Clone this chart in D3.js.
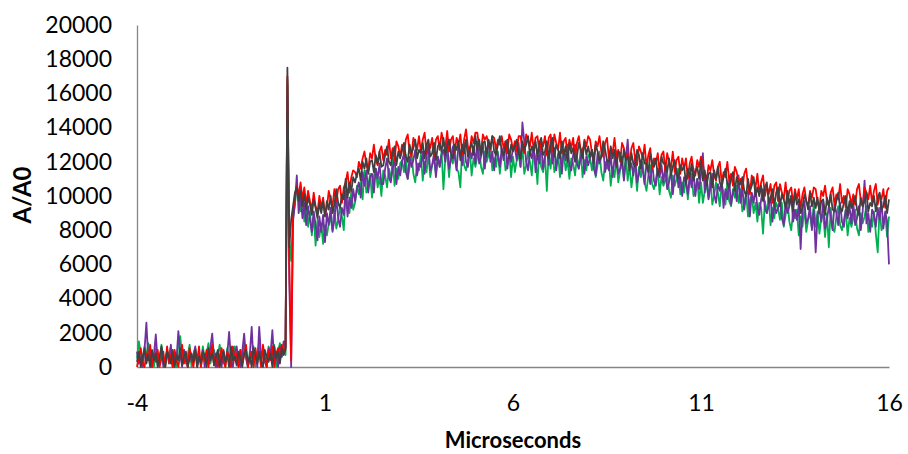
<!DOCTYPE html>
<html>
<head>
<meta charset="utf-8">
<script src="https://cdn.jsdelivr.net/npm/d3@7"></script>
<style>
    body { margin: 0; background: #fff; }
    #chart-area { width: 908px; height: 454px; }
    .axis text { font-family: Lato, "Open Sans", sans-serif; font-size: 23px; fill: #000; }
    .axis path { stroke: #868686; stroke-width: 1.3px; }
    .axis-title { font-family: Lato, "Open Sans", sans-serif; font-weight: bold; fill: #000; }
</style>
</head>
<body>
<div id="chart-area"></div>
<script>

// sampling of the traces (microseconds)
let tStart = -4;
let tStep = 0.05;

let xTicks = [-4, 1, 6, 11, 16];
let yTicks = [0, 2000, 4000, 6000, 8000, 10000, 12000, 14000, 16000, 18000, 20000];

let seriesNames = ["green", "purple", "red", "gray"];
let seriesColors = ["#00B050", "#7030A0", "#FF0000", "#404040"];

let greenValues = [
    500, 1500, 800, 0, 1200, 600, 1400, 300, 900, 0, 1100, 700, 200, 1300, 500, 0, 1000, 600, 1200, 300,
    800, 0, 1400, 1800, 500, 1000, 200, 700, 1300, 0, 600, 1100, 400, 900, 0, 1200, 500, 800, 1400, 200,
    600, 1000, 0, 700, 1300, 400, 900, 0, 1100, 500, 800, 200, 1200, 600, 0, 1000, 400, 1300, 700, 0,
    900, 500, 1200, 0, 800, 1400, 300, 1000, 600, 0, 1200, 800, 400, 1300, 0, 900, 1400, 600, 1100, 700,
    16800,
    7500, 6200, 8700, 9500, 10600, 9900, 9100, 9800, 8500, 9400, 8200, 9100, 7700, 8900, 7100, 8600, 7600, 8400, 7200, 8300,
    7700, 8400, 8700, 8000, 9200, 8100, 8600, 9400, 8800, 8000, 10200, 9700, 9000, 10300, 9200, 9600, 10600, 10100, 10800, 9800,
    11500, 10200, 10600, 11300, 9900, 11200, 11600, 10500, 11100, 10000, 11500, 11200, 10500, 11600, 10900, 12200, 10600, 11600, 11000, 11900,
    12100, 11400, 12400, 11000, 11700, 12500, 11300, 10800, 11900, 11500, 12400, 10900, 12000, 11400, 12500, 11100, 11800, 12200, 11300, 12300,
    11700, 12600, 10400, 12200, 12400, 11100, 12500, 11900, 12800, 11600, 11400, 10500, 12900, 11800, 11500, 12100, 12700, 11200, 12200, 11700,
    12300, 12800, 11700, 11300, 12600, 12000, 12400, 13000, 11500, 12200, 11700, 12600, 11300, 12400, 12800, 11500, 11800, 12500, 11100, 12300,
    11400, 12100, 12400, 11700, 12900, 11300, 11800, 12600, 12000, 11200, 12700, 12200, 10700, 12800, 11700, 11400, 12400, 10300, 12600, 11600,
    12700, 11400, 11800, 12500, 11100, 12200, 12600, 11500, 12100, 11000, 12200, 11900, 11200, 12300, 11600, 12700, 11100, 12100, 11500, 12400,
    12200, 11500, 12500, 11100, 11800, 12600, 11400, 10900, 12000, 11600, 12100, 10600, 11700, 11100, 12200, 10800, 11500, 11900, 11000, 12500,
    10900, 11800, 10500, 11400, 11600, 10300, 11700, 11100, 12000, 10800, 10300, 11200, 11800, 10700, 10400, 11000, 11600, 10100, 11100, 10600,
    10900, 11400, 10300, 9900, 11200, 10600, 11000, 11600, 10100, 10800, 10200, 11100, 9800, 10900, 11300, 10000, 10300, 11000, 9600, 10800,
    9600, 10300, 10600, 9900, 11100, 9500, 10000, 10800, 10200, 9400, 10700, 10200, 9500, 10800, 9700, 9400, 10400, 9900, 10600, 9600,
    10400, 9100, 9500, 10200, 8800, 9700, 10100, 9000, 9600, 8500, 9600, 9300, 7800, 9700, 9000, 9900, 8300, 9300, 8700, 9600,
    9300, 8600, 9600, 8200, 8900, 9700, 8500, 8000, 9100, 8700, 9200, 7700, 8800, 8200, 9300, 7900, 8600, 9000, 8100, 9600,
    8200, 9100, 7800, 8700, 8900, 7600, 9000, 7000, 9300, 8100, 7900, 8800, 9400, 8300, 8000, 8600, 9200, 7700, 8700, 8200,
    8700, 9200, 8100, 7700, 9000, 8400, 8800, 9400, 7900, 8600, 8200, 9100, 7800, 6700, 9300, 8000, 8300, 9000, 7600, 8800
];

let purpleValues = [
    900, 200, 600, 0, 1000, 2600, 400, 800, 0, 700, 1900, 300, 600, 1100, 0, 500, 900, 200, 1300, 0,
    700, 400, 2100, 800, 0, 1000, 500, 0, 900, 300, 700, 1200, 0, 600, 400, 1000, 0, 800, 300, 1100,
    1950, 500, 0, 900, 600, 0, 1000, 300, 700, 2050, 400, 0, 800, 1200, 300, 0, 900, 1950, 500, 0,
    700, 2350, 200, 900, 0, 2350, 600, 1000, 300, 0, 1100, 700, 2150, 400, 900, 0, 1200, 600, 1500, 1100,
    16500,
    5000, 0, 8500, 9600, 11200, 9000, 10100, 8700, 9600, 8300, 9400, 8600, 7900, 9100, 8300, 7400, 8800, 7900, 8900, 7300,
    9000, 8300, 9300, 7900, 8600, 9900, 8700, 8200, 9300, 8900, 10300, 8800, 9900, 9300, 10400, 9700, 10400, 10800, 9900, 11400,
    10600, 11500, 10200, 11100, 11300, 10200, 11600, 11000, 11900, 10700, 10700, 11600, 12200, 11100, 10800, 11600, 12200, 10700, 11700, 11200,
    12000, 12500, 11400, 11000, 12300, 11700, 12100, 12700, 11200, 11900, 11700, 12600, 11300, 12400, 12800, 11500, 11800, 12500, 11100, 12300,
    11700, 12400, 12700, 12000, 13200, 11600, 12100, 12900, 12300, 11500, 13000, 12500, 11800, 13100, 12000, 11700, 12700, 12200, 12900, 11900,
    13200, 11900, 12300, 13000, 11600, 12700, 13100, 12000, 12600, 11500, 12700, 12400, 11700, 12800, 12100, 13200, 11600, 12600, 12000, 12900,
    12800, 12100, 13100, 11700, 14300, 13200, 12000, 11500, 12600, 12200, 12900, 11400, 12500, 11900, 13000, 11600, 12300, 12700, 11800, 13300,
    11900, 12800, 11500, 12400, 12600, 11300, 12700, 12100, 13000, 11800, 11500, 12400, 13000, 11900, 11600, 12200, 12800, 11300, 12300, 11800,
    12200, 12700, 11600, 11200, 12500, 11900, 12300, 12900, 11400, 12100, 11500, 12400, 11100, 12200, 12600, 11300, 11600, 12300, 10900, 12100,
    13300, 11600, 11900, 11200, 12400, 10800, 11300, 12100, 11500, 10700, 11900, 11400, 10700, 12000, 10900, 10600, 11600, 11100, 11800, 10800,
    11700, 10400, 10800, 11500, 10100, 11200, 11600, 10500, 11100, 10000, 11100, 10800, 10100, 11200, 10500, 11600, 10000, 11000, 10400, 11300,
    12500, 10200, 11200, 9800, 10500, 11300, 10100, 9600, 10700, 10300, 10800, 9300, 10400, 9800, 10900, 9500, 10200, 10600, 9700, 11200,
    9600, 10500, 9200, 10100, 10300, 8800, 10200, 9600, 10500, 9300, 8900, 9800, 10400, 9300, 9000, 9400, 10000, 8500, 9500, 9000,
    9300, 9800, 8700, 8300, 9600, 9000, 9400, 10000, 8500, 9200, 8600, 9500, 6900, 9300, 9700, 8400, 8700, 9400, 8000, 9200,
    6700, 8900, 9200, 8500, 9700, 8100, 8600, 9400, 8800, 8000, 9500, 9000, 8300, 9600, 8500, 8200, 9200, 8700, 9400, 8400,
    9600, 8300, 8700, 9400, 8000, 9100, 10900, 8400, 9000, 7900, 9200, 8900, 8200, 9300, 8600, 9700, 8100, 9100, 8500, 6000
];

let redValues = [
    0, 600, 1100, 200, 0, 800, 400, 1300, 0, 700, 300, 1000, 0, 500, 900, 0, 1200, 300, 700, 0,
    1000, 400, 0, 800, 1300, 200, 600, 0, 1100, 500, 0, 900, 300, 1200, 0, 700, 400, 1000, 0, 600,
    1300, 100, 800, 0, 500, 1100, 300, 0, 900, 600, 0, 1200, 400, 800, 0, 1000, 200, 700, 1300, 0,
    500, 900, 0, 1100, 300, 800, 0, 1300, 600, 0, 1000, 400, 1200, 0, 700, 1100, 300, 1300, 800, 1200,
    17000,
    6000, 400, 9100, 9900, 10600, 10000, 10800, 9800, 10500, 9500, 10300, 9700, 9200, 10200, 9400, 9000, 10000, 9300, 9900, 8900,
    9300, 10300, 9800, 9400, 10400, 9700, 10400, 10600, 9600, 10500, 10800, 11400, 10200, 11100, 11500, 11400, 11100, 12000, 11600, 12200,
    12600, 11800, 11500, 12500, 12200, 13000, 12100, 11800, 12600, 12900, 12100, 12700, 12400, 13300, 12200, 12800, 12100, 13200, 12900, 12300,
    13000, 12400, 13300, 13600, 12600, 12300, 13400, 13100, 12700, 13500, 12600, 13300, 13700, 12500, 13100, 12800, 13400, 12300, 13300, 13500,
    12700, 13700, 13200, 12800, 13800, 12600, 13300, 13500, 12500, 13400, 13000, 13600, 12400, 13300, 13900, 12900, 12600, 13500, 13100, 13700,
    13700, 12900, 12600, 13600, 13300, 13500, 13000, 12700, 13500, 13400, 12700, 13300, 13000, 13500, 12800, 13200, 12500, 13600, 13300, 12700,
    13200, 12600, 13500, 13500, 12800, 12500, 13600, 13300, 12900, 13700, 12700, 13400, 13500, 12600, 13200, 12900, 13500, 12400, 13400, 13600,
    12600, 13600, 13100, 12700, 13700, 12500, 13200, 13400, 12400, 13300, 12800, 13400, 12200, 13100, 13500, 12700, 12400, 13300, 12900, 13500,
    13300, 12500, 12200, 13200, 12900, 13500, 12600, 12300, 13100, 13400, 12200, 12800, 12500, 13400, 12300, 12700, 12000, 13100, 12800, 12200,
    12500, 11900, 12800, 13100, 12100, 11800, 12900, 12600, 12200, 13000, 11700, 12400, 12800, 11600, 12200, 11900, 12500, 11400, 12400, 12600,
    11500, 12500, 12000, 11600, 12600, 11400, 12100, 12300, 11300, 12200, 11600, 12200, 11000, 11900, 12300, 11500, 11200, 12100, 11700, 12300,
    11900, 11100, 10800, 11800, 11500, 12100, 11200, 10900, 11700, 12000, 10800, 11400, 11100, 12000, 10900, 11300, 10600, 11700, 11400, 10800,
    11000, 10400, 11300, 11600, 10600, 10100, 11200, 10900, 10500, 11300, 10100, 10800, 11200, 10000, 10600, 10100, 10700, 9600, 10600, 10800,
    9700, 10700, 10200, 9800, 10800, 9600, 10300, 10500, 9500, 10400, 9800, 10400, 9200, 10100, 10500, 9700, 9400, 10300, 9900, 10500,
    10400, 9600, 9300, 10300, 10000, 10600, 9700, 9400, 10200, 10500, 9500, 10100, 9800, 10700, 9600, 10000, 9300, 10400, 10100, 9500,
    10100, 9500, 10400, 10700, 9700, 9400, 10500, 10200, 9800, 10600, 9600, 10300, 10700, 9500, 10100, 9800, 10400, 9300, 10300, 10500
];

let grayValues = [
    300, 900, 0, 600, 1100, 200, 700, 0, 1000, 400, 800, 0, 500, 1200, 300, 0, 900, 600, 200, 1000,
    0, 700, 400, 1100, 100, 600, 900, 0, 500, 800, 300, 1000, 0, 600, 200, 900, 700, 0, 1100, 400,
    800, 100, 600, 1000, 0, 500, 900, 300, 700, 0, 1200, 400, 600, 100, 900, 500, 0, 800, 1000, 300,
    600, 0, 1100, 700, 200, 900, 400, 0, 1000, 600, 300, 800, 0, 1200, 500, 900, 200, 1100, 700, 1000,
    17500,
    7000, 8600, 9400, 10200, 10500, 9700, 10300, 9400, 10100, 9200, 9900, 9500, 8900, 9800, 9300, 8700, 9600, 9000, 9700, 8800,
    9700, 9200, 10000, 9000, 9500, 10400, 9600, 9300, 10100, 9800, 11000, 9900, 10800, 10300, 11100, 10800, 11300, 11600, 10900, 12000,
    11600, 12200, 11300, 12000, 12100, 11400, 12400, 11900, 12600, 11700, 11800, 12400, 12900, 12000, 11800, 12500, 12900, 11800, 12600, 12200,
    12700, 13100, 12300, 12000, 13000, 12500, 12800, 13300, 12200, 12700, 12500, 13100, 12200, 13000, 13300, 12300, 12500, 13100, 12100, 12900,
    13100, 12600, 13400, 12400, 12900, 13300, 12500, 12200, 13000, 12700, 13200, 12100, 13000, 12500, 13300, 12300, 12800, 13100, 12400, 13500,
    12700, 13300, 12400, 13100, 13200, 12300, 13300, 12800, 13500, 12600, 12400, 13000, 13500, 12600, 12400, 12900, 13300, 12200, 13000, 12600,
    12900, 13300, 12500, 12200, 13200, 12700, 13000, 13500, 12400, 12900, 12600, 13200, 12300, 13100, 13400, 12400, 12600, 13200, 12200, 13000,
    13400, 12300, 13000, 12700, 12200, 13200, 12400, 12900, 12000, 13100, 12500, 12800, 12000, 12300, 13100, 12700, 12200, 13200, 12400, 12900,
    12300, 12700, 11900, 13000, 12600, 12100, 12300, 13200, 12700, 12100, 12000, 12900, 12200, 12700, 11700, 12600, 12500, 11800, 12700, 12100,
    12300, 11500, 12500, 11900, 11700, 12700, 12400, 11600, 12500, 11900, 11900, 11400, 12500, 12000, 11700, 12200, 11200, 11500, 12300, 11900,
    11900, 11400, 12200, 11200, 11700, 12100, 11300, 11000, 11800, 11500, 11800, 10700, 11600, 11100, 11900, 10900, 11400, 11700, 11000, 12100,
    10900, 11500, 10600, 11300, 11400, 10500, 11500, 11000, 11700, 10800, 10500, 11100, 11600, 10700, 10500, 11000, 11400, 10300, 11100, 10700,
    10700, 11100, 10300, 10000, 11000, 10300, 10600, 11100, 10000, 10500, 10000, 10600, 9700, 10500, 10800, 9600, 9800, 10400, 9400, 10200,
    10500, 9400, 10100, 9800, 9300, 10300, 9500, 10000, 9100, 10200, 9500, 9800, 9000, 9300, 10100, 9700, 9200, 10200, 9400, 9900,
    9300, 9900, 9000, 9700, 9800, 8900, 9900, 9400, 10100, 9200, 9100, 9700, 10200, 9300, 9100, 9600, 10000, 8900, 9700, 9300,
    9600, 10000, 9200, 8900, 9900, 9400, 9700, 10200, 9100, 9600, 9400, 10000, 9100, 9900, 10200, 9200, 9400, 10000, 9000, 9800
];


class TraceVis {

    constructor(parentElement, series) {
        this.parentElement = parentElement;
        this.series = series;

        this.initVis();
    }

    initVis() {
        let vis = this;

        vis.margin = {top: 25, right: 19, bottom: 87, left: 137};

        vis.width = 908 - vis.margin.left - vis.margin.right;
        vis.height = 454 - vis.margin.top - vis.margin.bottom;

        vis.svg = d3.select("#" + vis.parentElement).append("svg")
            .attr("width", 908)
            .attr("height", 454)
            .append("g")
            .attr("transform", `translate(${vis.margin.left}, ${vis.margin.top})`);

        // Scales
        vis.x = d3.scaleLinear()
            .domain([-4, 16])
            .range([0, vis.width]);

        vis.y = d3.scaleLinear()
            .domain([0, 20000])
            .range([vis.height, 0]);

        // Axes (no tick marks, only labels); plain hyphen for negatives
        vis.xAxis = d3.axisBottom(vis.x)
            .tickValues(xTicks)
            .tickSize(0)
            .tickSizeOuter(0)
            .tickPadding(28)
            .tickFormat(d => String(d));

        vis.yAxis = d3.axisLeft(vis.y)
            .tickValues(yTicks)
            .tickSize(0)
            .tickSizeOuter(0)
            .tickPadding(25)
            .tickFormat(d => String(d));

        vis.yAxisGroup = vis.svg.append("g")
            .attr("class", "y-axis axis");

        vis.xAxisGroup = vis.svg.append("g")
            .attr("class", "x-axis axis")
            .attr("transform", "translate(0," + vis.height + ")");

        vis.lineGroup = vis.svg.append("g")
            .attr("class", "lines");

        // Axis titles
        vis.svg.append("text")
            .attr("class", "axis-title")
            .attr("transform", `translate(${22 - vis.margin.left}, ${195 - vis.margin.top}) rotate(-90)`)
            .attr("text-anchor", "middle")
            .attr("dy", "0.36em")
            .style("font-size", "24px")
            .text("A/A0");

        vis.svg.append("text")
            .attr("class", "axis-title")
            .attr("x", vis.x(6))
            .attr("y", 448 - vis.margin.top)
            .attr("text-anchor", "middle")
            .style("font-size", "22px")
            .text("Microseconds");

        vis.wrangleData();
    }

    wrangleData() {
        let vis = this;

        vis.displayData = vis.series.map(s => ({
            name: s.name,
            color: s.color,
            points: s.values.map((v, i) => ({t: tStart + i * tStep, value: v}))
        }));

        vis.updateVis();
    }

    updateVis() {
        let vis = this;

        vis.line = d3.line()
            .x(d => vis.x(d.t))
            .y(d => vis.y(d.value));

        vis.lineGroup.selectAll("path")
            .data(vis.displayData)
            .enter()
            .append("path")
            .attr("class", d => "trace " + d.name)
            .attr("fill", "none")
            .attr("stroke", d => d.color)
            .attr("stroke-width", 1.8)
            .attr("stroke-linejoin", "round")
            .attr("d", d => vis.line(d.points));

        vis.yAxisGroup.call(vis.yAxis);
        vis.xAxisGroup.call(vis.xAxis);
    }
}

let traces = [
    {name: seriesNames[0], color: seriesColors[0], values: greenValues},
    {name: seriesNames[1], color: seriesColors[1], values: purpleValues},
    {name: seriesNames[2], color: seriesColors[2], values: redValues},
    {name: seriesNames[3], color: seriesColors[3], values: grayValues}
];

let myTraceVis = new TraceVis("chart-area", traces);

</script>
</body>
</html>
